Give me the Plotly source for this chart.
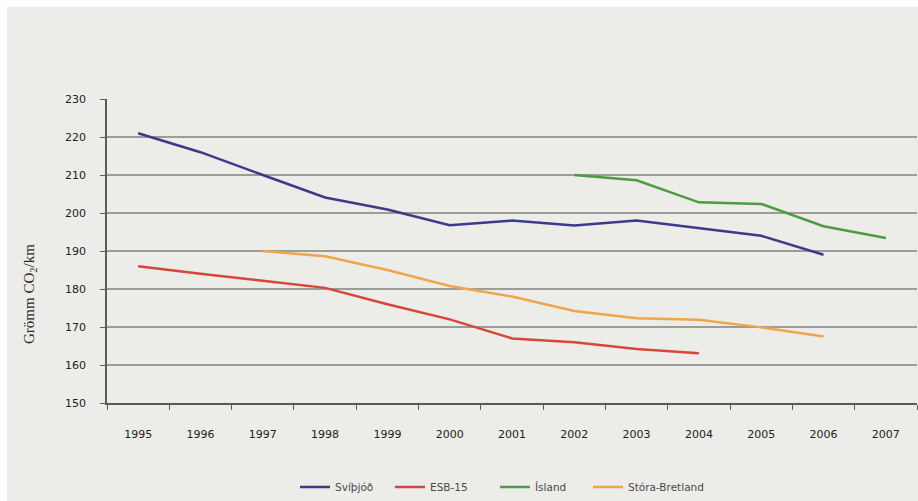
import plotly.graph_objects as go

years = ["1995", "1996", "1997", "1998", "1999", "2000", "2001",
         "2002", "2003", "2004", "2005", "2006", "2007"]

svithjod = [221, 216, 210, 204.1, 200.9, 196.8, 198, 196.7, 198, 196, 194, 189, None]
esb15 = [186, 184, 182.2, 180.3, 176, 172, 167, 166, 164.2, 163.1, None, None, None]
island = [None, None, None, None, None, None, None, 210, 208.6, 202.8, 202.4, 196.5, 193.4]
storabretland = [None, None, 190, 188.6, 185, 180.8, 178, 174.2, 172.3, 171.9, 169.9, 167.5, None]

series_names = ["Svíþjóð", "ESB-15", "Ísland", "Stóra-Bretland"]
series_values = [svithjod, esb15, island, storabretland]
series_colors = ["#3c3a8a", "#d8463a", "#4e9b43", "#f0a54a"]

y_ticks = [150, 160, 170, 180, 190, 200, 210, 220, 230]

W, H = 918, 501
ml, mr, mt, mb = 107, 1, 99, 98
pw, ph = W - ml - mr, H - mt - mb

legend_ids = ["legend", "legend2", "legend3", "legend4"]
legend_px = [295, 390, 495, 588]

fig = go.Figure()
for name, vals, col, lid in zip(series_names, series_values, series_colors, legend_ids):
    fig.add_trace(go.Scatter(
        x=years, y=vals, name=name, mode="lines",
        line=dict(color=col, width=2.5),
        connectgaps=False, legend=lid,
    ))

bg = "#ecece8"
fig.add_shape(type="rect", xref="paper", yref="paper",
              x0=(7 - ml) / pw, x1=1.05,
              y0=-(mb + 5) / ph, y1=(H - 7 - mb) / ph,
              fillcolor=bg, line=dict(width=0), layer="below")

tick_font = dict(family="DejaVu Sans, Verdana, sans-serif", size=11, color="#222222")

legend_layout = {}
for lid, px in zip(legend_ids, legend_px):
    legend_layout[lid] = dict(
        orientation="h", x=(px - ml) / pw, xanchor="left",
        y=(403 - 487) / ph, yanchor="middle",
        font=dict(size=10.5, color="#4a4a4a"),
        bgcolor="rgba(0,0,0,0)", itemwidth=30,
    )

fig.update_layout(
    width=W, height=H,
    margin=dict(l=ml, r=mr, t=mt, b=mb, autoexpand=False),
    paper_bgcolor="white",
    plot_bgcolor=bg,
    font=dict(family="DejaVu Sans, Verdana, sans-serif", size=11, color="#333333"),
    showlegend=True,
    xaxis=dict(
        type="category", categoryorder="array", categoryarray=years,
        range=[-0.5, 12.5],
        showgrid=False, showline=True, linecolor="#5a5a5a", linewidth=1.5,
        ticks="outside", tickson="boundaries", ticklen=5, tickcolor="#5a5a5a",
        ticklabelstandoff=20,
        tickfont=tick_font,
        zeroline=False, fixedrange=True,
    ),
    yaxis=dict(
        range=[150, 230], tickvals=y_ticks,
        showgrid=True, gridcolor="#9c9c98", gridwidth=2,
        showline=True, linecolor="#5a5a5a", linewidth=1.5,
        ticks="outside", ticklen=5, tickcolor="#5a5a5a",
        ticklabelstandoff=12,
        tickfont=tick_font,
        zeroline=False,
    ),
    **legend_layout,
)

fig.add_annotation(
    text="Grömm CO<sub>2</sub>/km", xref="paper", yref="paper",
    x=(30 - ml) / pw, y=(403 - 294) / ph, showarrow=False, textangle=-90,
    font=dict(family="Liberation Serif, Times New Roman, serif", size=15, color="#2a2a2a"),
    xanchor="center", yanchor="middle",
)

fig.write_html("out.html")
